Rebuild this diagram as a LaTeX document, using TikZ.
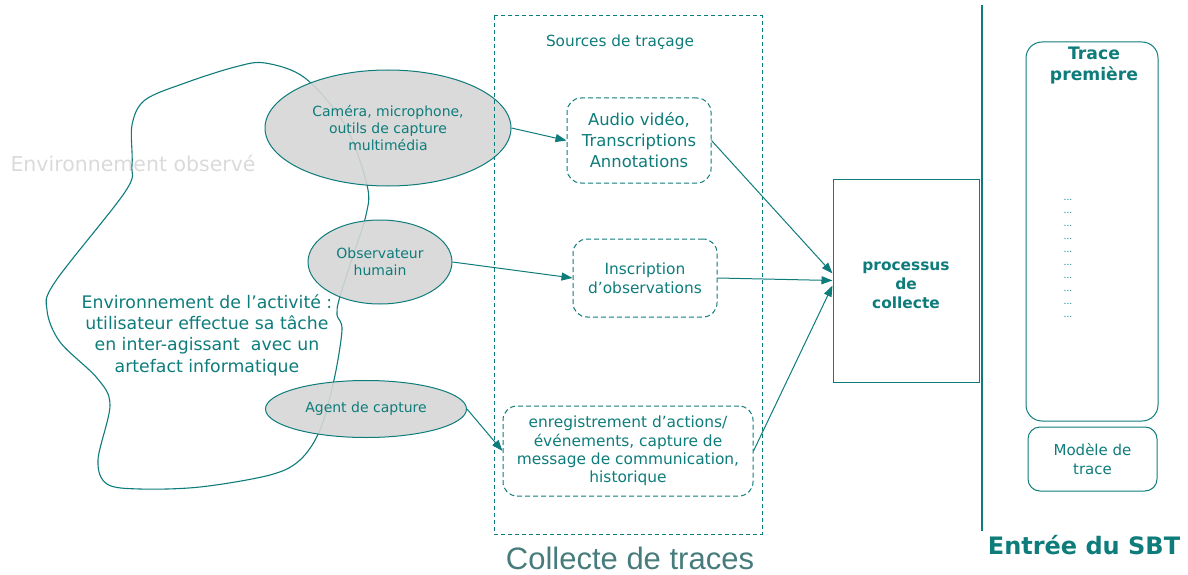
\documentclass[tikz,border=0pt]{standalone}
\usepackage{fontspec}
\setmainfont{DejaVu Sans}
\newfontfamily\arialfont{Liberation Sans}
\usepackage{tikz}
\usetikzlibrary{arrows.meta,shapes.geometric}

\definecolor{tealc}{RGB}{14,124,123}
\definecolor{titlegray}{RGB}{72,124,124}
\definecolor{lightgrey}{RGB}{218,218,218}

\begin{document}
\begin{tikzpicture}[x=1pt, y=-1pt, line width=1pt,
  src/.style={draw=tealc, dash pattern=on 5pt off 3pt, rounded corners=14pt, align=center, text=tealc, inner sep=0pt},
  tool/.style={ellipse, draw=tealc, fill=black!16, fill opacity=0.9, text opacity=1, text=tealc, align=center, inner sep=0pt, font=\fontsize{14}{16.7}\selectfont},
  sbt/.style={draw=tealc, rounded corners=16pt, align=center, text=tealc, inner sep=0pt},
  conn/.style={draw=tealc, -{Triangle[length=11pt,width=8pt]}}]
  \useasboundingbox (0,0) rectangle (1188,575);

  % environnement
  \node[text=lightgrey, font=\fontsize{20.5}{24}\selectfont, anchor=west, inner sep=0pt] (obsenv) at (10,163) {Environnement observé};
  \draw[tealc, line width=1.1pt] plot[smooth cycle, tension=0.55] coordinates {
    (265,63) (305,78) (345,125) (367,185) (366,215) (350,265) (339,300) (337,315) (342,330)
    (334,380) (320,430) (300,460) (270,475) (200,487) (140,489) (107,484) (98,460) (110,405)
    (97,378) (60,342) (47,310) (55,282) (125,192) (132,165) (132,125) (145,100) (185,83) (235,67)};
  \node[text=tealc, align=center, font=\fontsize{17.3}{21.3}\selectfont] (activ) at (207,335)
    {Environnement de l’activité :\\ utilisateur effectue sa tâche\\ en inter-agissant\ \ avec un\\ artefact informatique};

  \node[tool, minimum width=246pt, minimum height=116pt] (cam) at (388,128) {Caméra, microphone,\\ outils de capture\\ multimédia};
  \node[tool, minimum width=144pt, minimum height=84pt] (obs) at (380,262) {Observateur\\ humain};
  \node[tool, minimum width=201pt, minimum height=57pt] (agent) at (366,409) {Agent de capture};

  % sources de tracage
  \draw[tealc, dash pattern=on 4pt off 3pt] (494,16) rectangle (762,534);
  \node[text=tealc, font=\fontsize{15.3}{18}\selectfont] (srctitle) at (620,42) {Sources de traçage};
  \node[src, minimum width=144pt, minimum height=85pt, font=\fontsize{16.4}{21}\selectfont] (audio) at (639,140.5) {Audio vidéo,\\ Transcriptions\\ Annotations};
  \node[src, minimum width=144pt, minimum height=78pt, font=\fontsize{15.4}{19.3}\selectfont] (insc) at (645,278) {Inscription\\ d’observations};
  \node[src, minimum width=250pt, minimum height=90pt, font=\fontsize{15.4}{18.3}\selectfont] (enreg) at (628,451) {enregistrement d’actions/\\ événements, capture de\\ message de communication,\\ historique};
  \node[text=titlegray, inner sep=0pt, font=\arialfont\fontsize{31}{34}\selectfont] (collecte) at (630,558) {Collecte de traces};

  % collecte
  \node[draw=tealc, minimum width=146pt, minimum height=203pt] (proc) at (906,280.5) {};
  \node[text=tealc, align=center, font=\bfseries\fontsize{15.4}{19}\selectfont] (proctext) at (906,285) {processus\\ de\\ collecte};

  \draw[conn] (cam.east) -- (audio.west);
  \draw[conn] (obs.east) -- (insc.west);
  \draw[conn] (agent.east) -- (enreg.west);
  \draw[conn] (audio.east) -- ([yshift=7pt]proc.west);
  \draw[conn] (insc.east) -- (proc.west);
  \draw[conn] (enreg.east) -- ([yshift=-5pt]proc.west);

  % entree du SBT
  \draw[tealc, line width=1.4pt] (982,5) -- (982,531);
  \node[sbt, minimum width=132pt, minimum height=379pt] (trace) at (1092,231.5) {};
  \node[text=tealc, align=center, font=\bfseries\fontsize{17.2}{21}\selectfont] (tracetitle) at (1094,65.5) {Trace\\ première};
  \foreach \k in {0,...,9}
    \node[text=tealc, font=\fontsize{9}{9}\selectfont, inner sep=0pt] (dot\k) at (1068,200+13*\k) {...};
  \node[sbt, rounded corners=12pt, minimum width=129pt, minimum height=64pt, font=\fontsize{15}{19.5}\selectfont] (modele) at (1092.5,459) {Modèle de\\ trace};
  \node[text=tealc, font=\bfseries\fontsize{24}{28}\selectfont] (entree) at (1084,545) {Entrée du SBT};
\end{tikzpicture}
\end{document}
